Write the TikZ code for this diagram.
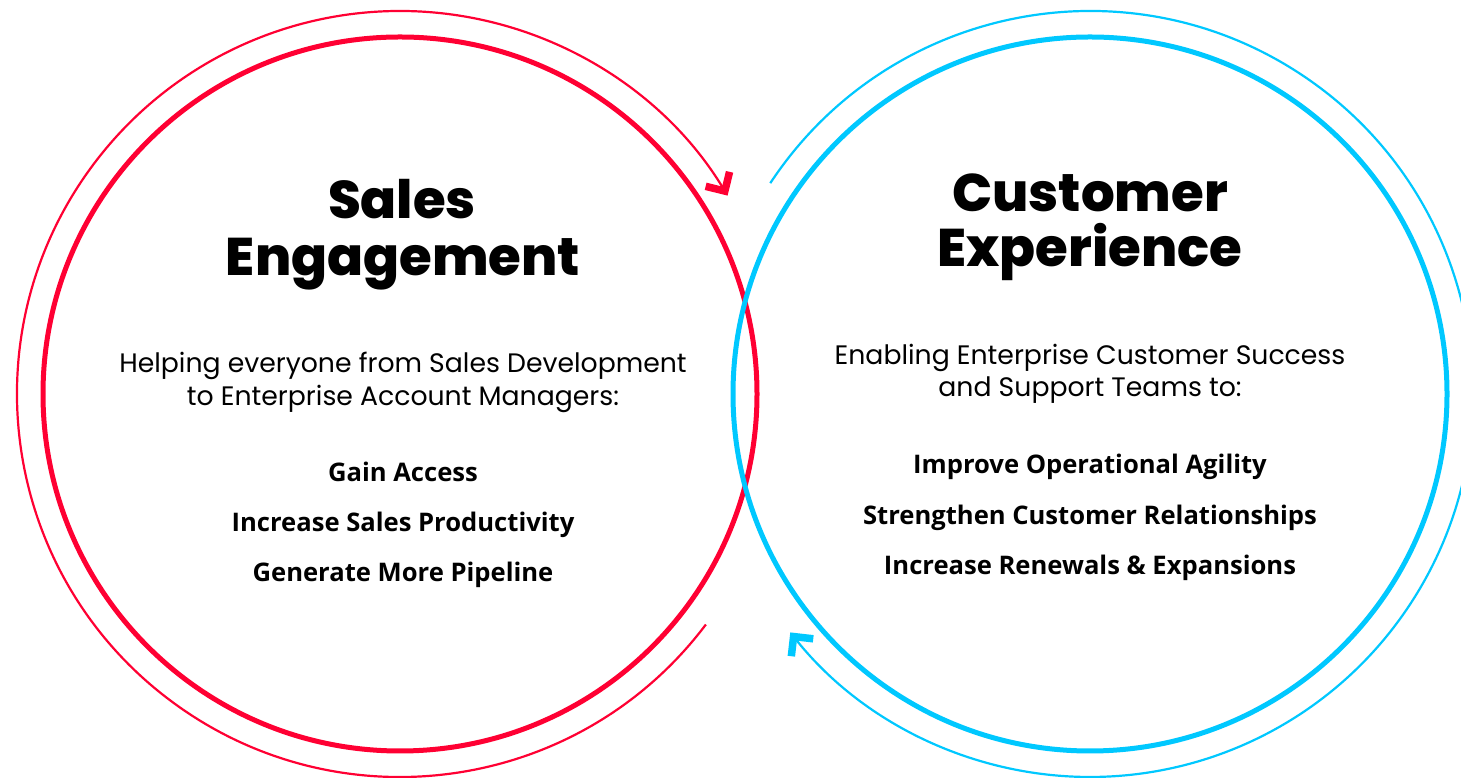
\documentclass[tikz,border=0pt]{standalone}
\usepackage{fontspec}
\usetikzlibrary{arrows.meta,calc}
\setmainfont{Poppins}
\IfFontExistsTF{Poppins ExtraBold}
  {\newfontfamily\headfont{Poppins ExtraBold}}
  {\newfontfamily\headfont{Poppins}[UprightFont=*, UprightFeatures={FakeBold=2}]}
\newfontfamily\bodyfont{Poppins}
\IfFontExistsTF{Noto Sans Bold}
  {\newfontfamily\itemfont{Noto Sans Bold}}
  {\IfFontExistsTF{Open Sans Bold}
    {\newfontfamily\itemfont{Open Sans Bold}}
    {\newfontfamily\itemfont{Liberation Sans Bold}}}
\definecolor{salesred}{HTML}{FF0033}
\definecolor{cxblue}{HTML}{00C8FF}
\begin{document}
\begin{tikzpicture}[x=1pt,y=1pt,
  ring/.style={line width=5pt},
  loop/.style={line width=2.2pt},
  chevron/.style={-{Straight Barb[length=14pt,width=28pt,line width=7.5pt,line join=miter]}},
  title/.style={anchor=base,font=\headfont\fontsize{53}{58}\selectfont,text=black,inner sep=0pt},
  lead/.style={anchor=base,font=\bodyfont\fontsize{26.7}{32}\selectfont,text=black,inner sep=0pt},
  goal/.style={anchor=base,font=\itemfont\fontsize{25.6}{30}\selectfont,text=black,inner sep=0pt}]
\useasboundingbox (0,0) rectangle (1461,778);
\fill[white] (0,0) rectangle (1461,778);

% centres of the two cycles
\coordinate (rc) at (400,384);
\coordinate (bc) at (1090,384);

% main rings
\draw[ring,salesred] (rc) circle[radius=357pt];
\draw[ring,cxblue] (bc) circle[radius=357pt];

% outer return arcs with arrowheads
\draw[loop,salesred,chevron]
  ($(rc)+(-37:383pt)$) coordinate (rs) arc[start angle=-37,end angle=-328.8,radius=383pt] coordinate (re);
\draw[loop,cxblue,chevron]
  ($(bc)+(146.6:383pt)$) coordinate (bs) arc[start angle=146.6,end angle=-141.5,radius=383pt] coordinate (be);

% left circle text
\node[title] (s1) at (402,559) {Sales};
\node[title] (s2) at (403,502) {Engagement};
\node[lead] (s3) at (403,405) {Helping everyone from Sales Development};
\node[lead] (s4) at (403,372) {to Enterprise Account Managers:};
\node[goal] (s5) at (403,296) {Gain Access};
\node[goal] (s6) at (403,246) {Increase Sales Productivity};
\node[goal] (s7) at (403,196) {Generate More Pipeline};

% right circle text
\node[title] (c1) at (1090,566) {Customer};
\node[title] (c2) at (1090,511) {Experience};
\node[lead] (c3) at (1090,413) {Enabling Enterprise Customer Success};
\node[lead] (c4) at (1090,381) {and Support Teams to:};
\node[goal] (c5) at (1090,304) {Improve Operational Agility};
\node[goal] (c6) at (1090,253) {Strengthen Customer Relationships};
\node[goal] (c7) at (1090,203) {Increase Renewals \& Expansions};
\end{tikzpicture}
\end{document}
